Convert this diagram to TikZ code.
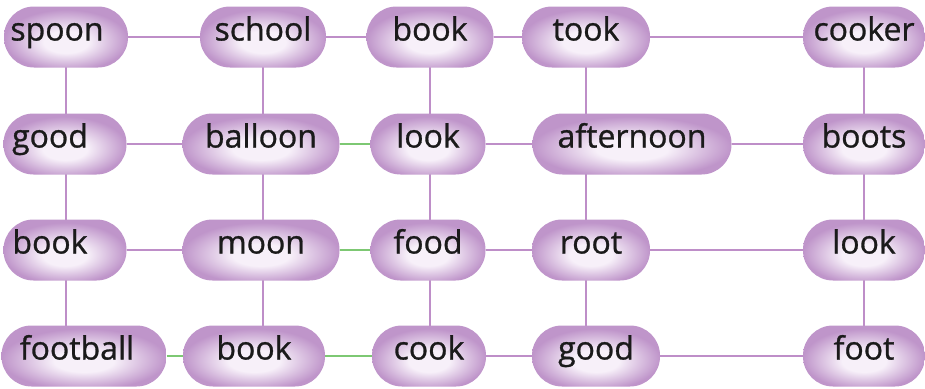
\documentclass[tikz,border=0pt]{standalone}
\usepackage{fontspec}
\setmainfont{Open Sans}
\newfontfamily\wordfont[FakeBold=0.9]{Open Sans}
\usetikzlibrary{backgrounds}
\definecolor{pillin}{HTML}{F7F0F9}
\definecolor{pillout}{HTML}{BF95CA}
\definecolor{linkp}{HTML}{BE8EC8}
\definecolor{linkg}{HTML}{7DC873}
\definecolor{ink}{HTML}{1A1A1A}
\pgfdeclareradialshading{pill}{\pgfpoint{0bp}{-5bp}}{color(0bp)=(pillin); color(9bp)=(pillin); color(25bp)=(pillout); color(50bp)=(pillout)}
\tikzset{
  word/.style={rounded corners=30pt, shading=pill, minimum height=61pt, minimum width=#1,
               inner sep=2pt, text=ink, font=\wordfont\fontsize{32}{36}\selectfont,
               text height=23pt, text depth=16pt},
  link/.style={draw=linkp, line width=2pt},
  glink/.style={draw=linkg, line width=2.2pt},
}

\begin{document}
\begin{tikzpicture}[x=1pt, y=-1pt]
\useasboundingbox (0,0) rectangle (925,388);
% row 1
\node[word=124pt] (a1) at (66,37) {spoon\hspace*{18pt}};
\node[word=126pt] (a2) at (263,37) {school};
\node[word=127pt] (a3) at (430,37) {book};
\node[word=128pt] (a4) at (586,37) {took};
\node[word=122pt] (a5) at (864,37) {cooker};
% row 2
\node[word=123pt] (b1) at (65,144) {good\hspace*{30pt}};
\node[word=157pt] (b2) at (261,144) {balloon};
\node[word=115pt] (b3) at (428,144) {look};
\node[word=199pt] (b4) at (632,144) {afternoon};
\node[word=122pt] (b5) at (864,144) {boots};
% row 3
\node[word=123pt] (c1) at (65,250) {book\hspace*{30pt}};
\node[word=157pt] (c2) at (261,250) {moon};
\node[word=115pt] (c3) at (428,250) {food};
\node[word=118pt] (c4) at (591,250) {root};
\node[word=122pt] (c5) at (864,250) {look};
% row 4
\node[word=165pt] (d1) at (84,356) {football\hspace*{14pt}};
\node[word=142pt] (d2) at (254,356) {book};
\node[word=114pt] (d3) at (429,356) {cook};
\node[word=128pt] (d4) at (596,356) {good};
\node[word=122pt] (d5) at (864,356) {foot};

\begin{scope}[on background layer]
\foreach \r/\c in {a/link,b/link,c/link,d/glink} {
  \draw[\c] (\r1) -- (\r2);
}
\foreach \r/\c in {a/link,b/glink,c/glink,d/glink} {
  \draw[\c] (\r2) -- (\r3);
}
\foreach \r in {a,b,c,d} {\foreach \i/\j in {3/4,4/5} {\draw[link] (\r\i) -- (\r\j);}}
\foreach \i in {1,...,5} {\foreach \p/\q in {a/b,b/c,c/d} {\draw[link] (a\i |- \p\i) -- (a\i |- \q\i);}}
\end{scope}
\end{tikzpicture}
\end{document}
